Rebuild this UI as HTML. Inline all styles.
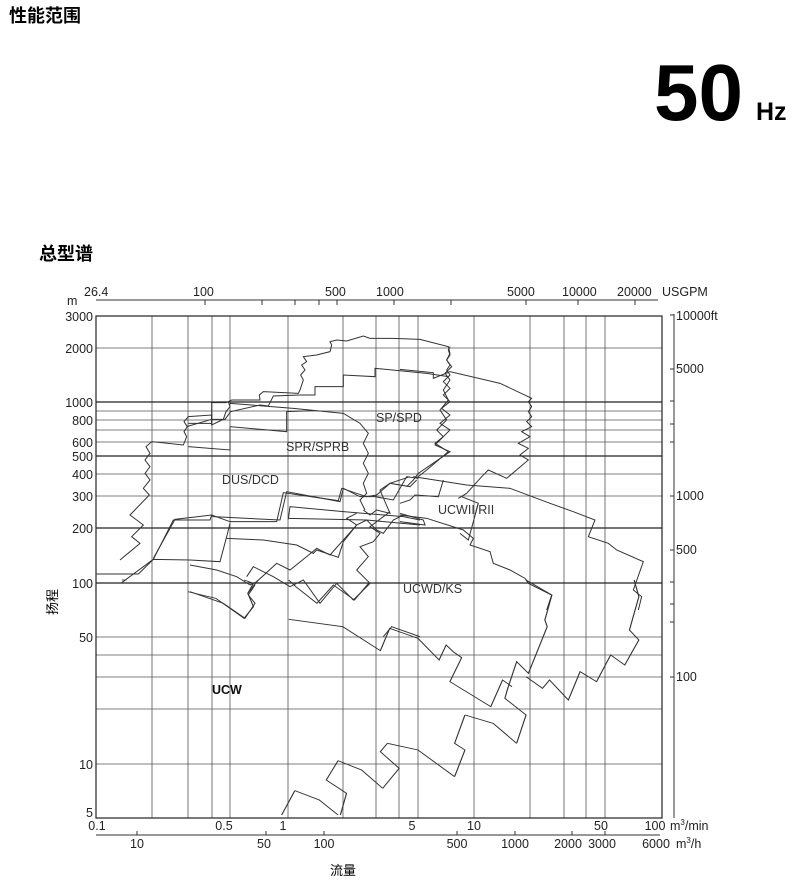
<!DOCTYPE html>
<html><head><meta charset="utf-8"><style>
body{margin:0;background:#fff;width:800px;height:892px;overflow:hidden;font-family:"Liberation Sans","Noto Sans CJK SC",sans-serif}
svg{position:absolute;left:0;top:0}
</style></head><body>
<svg width="800" height="892" viewBox="0 0 800 892" xmlns="http://www.w3.org/2000/svg" font-family="Liberation Sans, Noto Sans CJK SC, sans-serif">
<text x="9" y="22" font-size="18" font-weight="bold" font-family="Noto Sans CJK SC, sans-serif">性能范围</text>
<text x="654" y="120" font-size="80" font-weight="bold">50</text>
<text x="756" y="120" font-size="25" font-weight="bold">Hz</text>
<text x="39" y="260" font-size="18" font-weight="bold" font-family="Noto Sans CJK SC, sans-serif">总型谱</text>

<!-- top axis -->
<g stroke="#333" stroke-width="1" fill="none">
<line x1="96" y1="300" x2="658" y2="300"/>
<line x1="205" y1="300" x2="205" y2="305"/><line x1="262" y1="300" x2="262" y2="305"/><line x1="295" y1="300" x2="295" y2="305"/><line x1="319" y1="300" x2="319" y2="305"/><line x1="337" y1="300" x2="337" y2="305"/><line x1="394" y1="300" x2="394" y2="305"/><line x1="451" y1="300" x2="451" y2="305"/><line x1="526" y1="300" x2="526" y2="305"/><line x1="578" y1="300" x2="578" y2="305"/><line x1="635" y1="300" x2="635" y2="305"/>
</g>
<g font-size="12.5" fill="#222">
<text x="84" y="296">26.4</text><text x="67" y="305">m</text>
<text x="193" y="296">100</text><text x="325" y="296">500</text><text x="376" y="296">1000</text>
<text x="507" y="296">5000</text><text x="562" y="296">10000</text><text x="617" y="296">20000</text><text x="662" y="296">USGPM</text>
</g>

<!-- grid -->
<g stroke="#555" stroke-width="0.8" fill="none">
<line x1="152" y1="316" x2="152" y2="818"/><line x1="188" y1="316" x2="188" y2="818"/><line x1="212" y1="316" x2="212" y2="818"/><line x1="230" y1="316" x2="230" y2="818"/><line x1="288" y1="316" x2="288" y2="818"/><line x1="343" y1="316" x2="343" y2="818"/><line x1="376" y1="316" x2="376" y2="818"/><line x1="399" y1="316" x2="399" y2="818"/><line x1="418" y1="316" x2="418" y2="818"/><line x1="474" y1="316" x2="474" y2="818"/><line x1="530" y1="316" x2="530" y2="818"/><line x1="564" y1="316" x2="564" y2="818"/><line x1="586" y1="316" x2="586" y2="818"/><line x1="605" y1="316" x2="605" y2="818"/>
<line x1="96" y1="348" x2="662" y2="348"/><line x1="96" y1="411" x2="662" y2="411"/><line x1="96" y1="420" x2="662" y2="420"/><line x1="96" y1="430" x2="662" y2="430"/><line x1="96" y1="442" x2="662" y2="442"/><line x1="96" y1="474" x2="662" y2="474"/><line x1="96" y1="496" x2="662" y2="496"/><line x1="96" y1="637" x2="662" y2="637"/><line x1="96" y1="655" x2="662" y2="655"/><line x1="96" y1="677" x2="662" y2="677"/><line x1="96" y1="709" x2="662" y2="709"/><line x1="96" y1="764" x2="662" y2="764"/>
</g>
<g stroke="#222" stroke-width="1.2" fill="none">
<line x1="96" y1="402" x2="662" y2="402"/><line x1="96" y1="456" x2="662" y2="456"/><line x1="96" y1="528" x2="662" y2="528"/><line x1="96" y1="583" x2="662" y2="583"/>
<rect x="96" y="316" width="566" height="502"/>
</g>
<g font-size="12.5" fill="#222" text-anchor="end">
<text x="93" y="321">3000</text><text x="93" y="353">2000</text><text x="93" y="407">1000</text><text x="93" y="425">800</text><text x="93" y="447">600</text><text x="93" y="461">500</text><text x="93" y="479">400</text><text x="93" y="501">300</text><text x="93" y="533">200</text><text x="93" y="588">100</text><text x="93" y="642">50</text><text x="93" y="769">10</text><text x="93" y="817">5</text>
</g>
<!-- right axis -->
<g stroke="#333" stroke-width="1" fill="none">
<line x1="674" y1="314" x2="674" y2="818"/>
<line x1="670" y1="315" x2="674" y2="315"/><line x1="670" y1="369" x2="674" y2="369"/><line x1="670" y1="401" x2="674" y2="401"/><line x1="670" y1="424" x2="674" y2="424"/><line x1="670" y1="442" x2="674" y2="442"/><line x1="670" y1="496" x2="674" y2="496"/><line x1="670" y1="550" x2="674" y2="550"/><line x1="670" y1="582" x2="674" y2="582"/><line x1="670" y1="604" x2="674" y2="604"/><line x1="670" y1="622" x2="674" y2="622"/><line x1="670" y1="677" x2="674" y2="677"/>
</g>
<g font-size="12.5" fill="#222">
<text x="676" y="320">10000ft</text><text x="676" y="373">5000</text><text x="676" y="500">1000</text><text x="676" y="554">500</text><text x="676" y="681">100</text>
</g>
<!-- bottom axes -->
<g font-size="12.5" fill="#222" text-anchor="middle">
<text x="97" y="830">0.1</text><text x="224" y="830">0.5</text><text x="283" y="830">1</text><text x="412" y="830">5</text><text x="474" y="830">10</text><text x="601" y="830">50</text><text x="655" y="830">100</text>
<text x="137" y="848">10</text><text x="264" y="848">50</text><text x="324" y="848">100</text><text x="457" y="848">500</text><text x="515" y="848">1000</text><text x="568" y="848">2000</text><text x="602" y="848">3000</text><text x="656" y="848">6000</text>
</g>
<text x="670" y="830" font-size="12.5" fill="#222">m<tspan font-size="8" dy="-5">3</tspan><tspan dy="5">/min</tspan></text>
<text x="676" y="848" font-size="12.5" fill="#222">m<tspan font-size="8" dy="-5">3</tspan><tspan dy="5">/h</tspan></text>
<g stroke="#333" stroke-width="1"><line x1="96" y1="835" x2="660" y2="835"/><line x1="137" y1="831" x2="137" y2="835"/><line x1="266" y1="831" x2="266" y2="835"/><line x1="324" y1="831" x2="324" y2="835"/><line x1="457" y1="831" x2="457" y2="835"/><line x1="515" y1="831" x2="515" y2="835"/><line x1="572" y1="831" x2="572" y2="835"/><line x1="605" y1="831" x2="605" y2="835"/></g>
<text x="343" y="875" font-size="13" text-anchor="middle" font-family="Noto Sans CJK SC, sans-serif">流量</text>
<text transform="translate(57,602) rotate(-90)" font-size="13" text-anchor="middle" font-family="Noto Sans CJK SC, sans-serif">扬程</text>

<!-- curves: upper (zoom1 coords) -->
<g transform="translate(60,280) scale(0.33333)" fill="none" stroke="#333" stroke-width="3">
<polyline points="180,840 240,790 215,770 250,735 210,705 268,645 250,625 270,600 255,580 270,560 255,540 270,520 258,500 275,485 370,495 380,470 372,455 382,440 372,425 385,410 455,405 455,435 490,418 498,395 510,380 505,365 515,360 600,360 598,345 610,335 715,340 720,330 730,300 722,285 735,270 725,255 740,245 730,230 770,225 810,215 815,195 810,185 830,180 860,183 910,168 930,175 1000,175 1080,178 1165,200 1170,220 1160,240 1175,260 1155,280 1170,300 1150,330 1165,360 1140,390 1160,420 1130,450 1150,470 1125,490 1165,515 1100,570 1075,590"/>
<polyline points="385,430 455,430 455,368 500,368"/>
<polyline points="380,440 455,418 495,418 512,395 600,375 625,378 640,348 720,345 765,345 765,320 850,320 850,285 945,290 945,265 1100,280 1165,290"/>
<polyline points="385,500 510,510 510,440 680,455 680,395 760,392"/>
<polyline points="510,370 700,385 850,400 900,430 925,460 910,490 925,520 910,550 925,580 910,610 920,640 900,660 915,690"/>
<polyline points="280,835 345,718 455,705 460,710 660,720 680,635 840,665 850,625 900,650 945,650 1000,660 1040,590 1075,595"/>
</g>
<!-- curves: mid-left (zoom4) -->
<g transform="translate(90,470) scale(0.33333)" fill="none" stroke="#333" stroke-width="3">
<polyline points="95,338 190,268 250,150 360,150 365,135 420,155 560,155 580,68 745,92 755,55 830,80 860,75 900,40 960,20"/>
<polyline points="20,312 145,312 190,268 300,270 390,275 410,200 420,160"/>
<polyline points="300,285 380,300 440,320 480,345"/>
<polyline points="410,205 520,210 620,225 670,250 680,240 745,262 760,215 800,165 770,145 800,130"/>
<polyline points="595,148 600,110 760,125 940,140 990,150"/>
<polyline points="595,145 830,150 990,165"/>
<polyline points="470,320 490,290 550,320 600,350 640,330 690,400 740,340 790,390 840,340 800,300 835,260 810,230 850,215 870,190 840,170 880,140 900,125"/>
<polyline points="480,345 500,335 560,280 600,300 650,260 680,235 720,255 800,165 830,150 860,180 880,190 910,150 940,135"/>
<polyline points="300,365 400,400 465,445 495,400 475,375 495,345"/>
<polyline points="820,120 840,135 860,120 900,130 870,60 900,40 960,50 980,30"/>
<polyline points="880,500 905,470 990,500"/>
</g>
<!-- curves: right (zoom3) -->
<g transform="translate(400,330) scale(0.33333)" fill="none" stroke="#333" stroke-width="3">
<polyline points="150,50 145,60 150,75 140,90 150,105 140,120 150,135 130,155 150,175 130,195 150,215 125,235 150,255 120,280 150,300 105,345 150,365 55,430 40,450 20,470"/>
<polyline points="0,118 100,128 100,145 150,125 300,160 395,205 385,215 395,230 385,245 395,260 380,275 395,290 365,305 390,320 355,340 385,355 360,375 385,390 320,445 265,420 245,440 200,490 175,505"/>
<polyline points="40,440 200,465 330,475 450,520 520,545 585,570 565,620 625,640 650,660 730,695 700,780 725,800 715,840"/>
<polyline points="130,450 115,500 45,495 30,510 0,520"/>
<polyline points="185,500 235,520 205,630 180,610"/>
<polyline points="0,555 80,565 190,600 220,625 210,645 270,665 280,700 330,720 375,745 385,760 455,795 440,840"/>
<polyline points="0,550 70,570 75,585 0,575"/>
</g>
<!-- curves: lower (zoom2 coords) -->
<g transform="translate(60.75,580) scale(0.47,0.33333)" fill="none" stroke="#333" stroke-width="2.5">
<polyline points="1220,0 1230,50 1210,150 1230,180 1200,255 1170,225 1140,305 1105,275 1080,360 1040,300 1025,325 990,290"/>
<polyline points="990,0 1045,45 1030,120 1035,140 995,280 970,245 950,330 945,355 990,405 970,490"/>
<polyline points="270,35 330,55 390,115 410,80 398,40 420,0"/>
<polyline points="485,118 600,140 680,212 700,145 760,175 805,240 820,195 835,215 853,233 828,305 915,380 940,300 960,320"/>
<polyline points="860,405 920,430 970,490"/>
<polyline points="860,405 838,490 860,510 838,590"/>
<polyline points="695,490 760,510 838,590"/>
<polyline points="695,490 680,515 720,565 685,625"/>
<polyline points="590,542 640,570 685,625"/>
<polyline points="590,542 565,600 608,640 595,705"/>
<polyline points="498,632 550,660 590,705"/>
<polyline points="498,632 470,705"/>
<polyline points="130,0 140,0"/>
<polyline points="390,0 410,10 398,40"/>
<polyline points="485,0 500,20 545,70 580,15 625,60 655,10"/>
</g>
<g font-size="12.5" fill="#333">
<text x="376" y="422">SP/SPD</text>
<text x="286" y="451">SPR/SPRB</text>
<text x="222" y="484">DUS/DCD</text>
<text x="438" y="514">UCWII/RII</text>
<text x="403" y="593">UCWD/KS</text>
<text x="212" y="694" font-weight="bold" fill="#111">UCW</text>
</g>
</svg>
</body></html>
